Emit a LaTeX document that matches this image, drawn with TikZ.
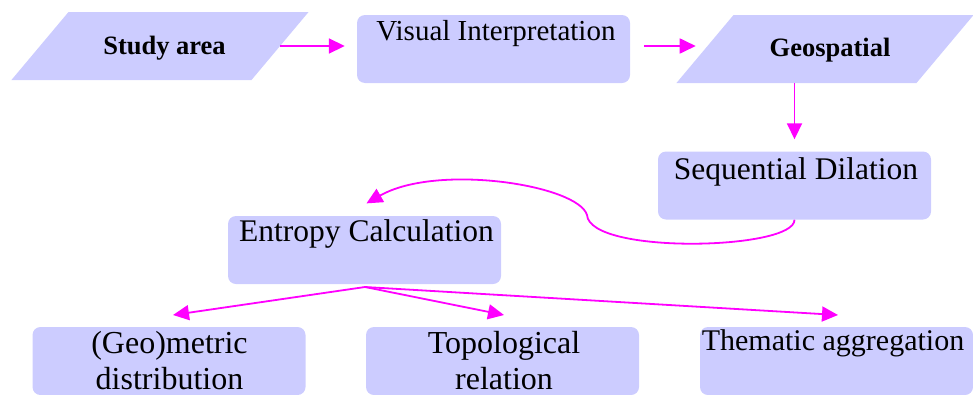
\documentclass[tikz,border=0pt]{standalone}
\usepackage{fontspec}
\setmainfont{Liberation Serif}
\usetikzlibrary{shapes.geometric,arrows.meta}
\definecolor{boxfill}{RGB}{204,204,255}
\definecolor{flow}{RGB}{255,0,255}

\begin{document}
\begin{tikzpicture}[x=1pt, y=-1pt]
	\tikzstyle{every node}=[inner sep=0pt, align=center]
	\tikzstyle{box}=[fill=boxfill, rounded corners=8pt, minimum width=273pt, minimum height=68pt]
	\tikzstyle{slant}=[trapezium, trapezium left angle=50, trapezium right angle=130, fill=boxfill, text width=183pt, text height=34pt, text depth=34pt]
	\tikzstyle{flowline}=[draw=flow, line width=1.8pt, -{Triangle[length=16pt, width=15pt]}]
	\tikzstyle{txt}=[anchor=base, font=\fontsize{31.5}{36}\selectfont]
	\tikzstyle{bold}=[anchor=base, font=\fontsize{26.5}{30}\selectfont\bfseries]
	\useasboundingbox (0,0) rectangle (973,394);
	\clip (0,0) rectangle (973,394);
	\node[slant] (study) at (160,46) {};
	\node[box] (vis) at (493.5,49) {};
	\node[slant] (geo) at (825,49) {};
	\node[box] (seq) at (794.5,185.5) {};
	\node[box] (ent) at (364.5,250) {};
	\node[box] (geom) at (169,361) {};
	\node[box] (topo) at (502.5,361) {};
	\node[box] (them) at (836.5,361) {};
	\node[bold] (study-t) at (164.5,54.3) {Study area};
	\node[txt, font=\fontsize{29}{34}\selectfont] (vis-t) at (496,40) {Visual Interpretation};
	\node[bold] (geo-t) at (830,56.5) {Geospatial};
	\node[txt] (seq-t) at (796,179) {Sequential Dilation};
	\node[txt] (ent-t) at (366.5,241.7) {Entropy Calculation};
	\node[txt, font=\fontsize{32}{36}\selectfont] (geom-t) at (169.5,389) {(Geo)metric\\distribution};
	\node[txt, font=\fontsize{32}{36}\selectfont] (topo-t) at (504,389) {Topological\\relation};
	\node[txt, font=\fontsize{30}{34}\selectfont] (them-t) at (833,350) {Thematic aggregation};
	\coordinate (fork) at (365,287);
	\coordinate (geom-in) at (173,315);
	\coordinate (topo-in) at (504,315);
	\coordinate (them-in) at (838,315);
	\draw[flowline, shorten >=12pt] (study.east) -- (study.east -| vis.west);
	\draw[flowline, shorten <=14pt, shorten >=9pt] (vis.east |- study.east) -- (study.east -| geo.west);
	\draw[flowline, shorten >=12pt] (seq.north |- geo.south) -- (seq.north);
	\draw[flowline, shorten >=25pt] (seq.south) .. controls (795,250) and (590,255) .. (587,215) .. controls (578,185) and (437,163) .. (ent.120);
	\draw[flowline] (fork) -- (geom-in);
	\draw[flowline] (fork) -- (topo-in);
	\draw[flowline] (fork) -- (them-in);
\end{tikzpicture}
\end{document}
